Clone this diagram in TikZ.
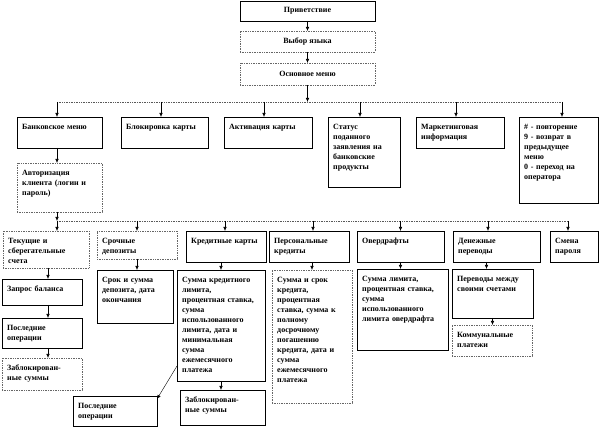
\documentclass[tikz,border=0pt]{standalone}
\usepackage{fontspec}
\setmainfont{Liberation Serif}
\usetikzlibrary{arrows.meta}
\tikzset{
  solidbox/.style={draw=black, line width=0.6pt},
  dotbox/.style={draw=black!60, densely dotted, line width=0.7pt},
  txt/.style={font=\fontsize{8}{10}\selectfont\bfseries, inner sep=0pt, align=left},
  arr/.style={-{Latex[length=4pt,width=3.5pt]}, line width=0.6pt},
  bus/.style={densely dotted, draw=black!65, line width=0.7pt},
}
\newcommand{\tbox}[7]{%
  \pgfmathsetmacro{\bw}{#5-#3}\pgfmathsetmacro{\bh}{#6-#4}\pgfmathsetmacro{\tw}{#5-#3-8}%
  \node[#2, anchor=north west, minimum width=\bw pt, minimum height=\bh pt, inner sep=0pt, outer sep=0pt] (#1) at (#3pt,-#4pt) {};%
  \node[txt, anchor=north west, text width=\tw pt] (#1-t) at (#3pt+5pt,-#4pt-5.5pt) {\strut #7};%
}
\newcommand{\drop}[3]{%
  \coordinate (tmp) at ([xshift=#2]#1.north);%
  \draw[arr] (tmp |- #3) -- (tmp);%
}
\begin{document}
\begin{tikzpicture}
\fill[white] (0,0) rectangle (600pt,-427pt);
\useasboundingbox (0,0) rectangle (600pt,-427pt);

% top chain
\node[solidbox, txt, align=center, minimum width=135pt, minimum height=20pt, anchor=north west, outer sep=0pt] (greet) at (240pt,-1pt) {Приветствие};
\node[dotbox, txt, align=center, minimum width=135pt, minimum height=21pt, anchor=north west, outer sep=0pt] (lang) at (240pt,-31pt) {Выбор языка};
\node[dotbox, txt, align=center, minimum width=135pt, minimum height=22pt, anchor=north west, outer sep=0pt] (main) at (240pt,-63pt) {Основное меню};

% first level
\tbox{bank}{solidbox}{17}{117}{102}{148}{Банковское меню}
\tbox{block}{solidbox}{121}{117}{208}{148}{Блокировка карты}
\tbox{activ}{solidbox}{224}{117}{312}{148}{Активация карты}
\tbox{status}{solidbox}{328}{117}{400}{187}{Статус\\поданного\\заявления на\\банковские\\продукты}
\tbox{market}{solidbox}{416}{117}{504}{148}{Маркетинговая\\информация}
\tbox{help}{solidbox}{519}{117}{598}{203}{\# - повторение\\9 - возврат в\\предыдущее\\меню\\0 - переход на\\оператора}
\tbox{auth}{dotbox}{17}{163}{102}{212}{Авторизация\\клиента (логин и\\пароль)}

% second level
\tbox{cur}{dotbox}{3}{231}{89}{268}{Текущие и\\сберегательные\\счета}
\tbox{term}{dotbox}{97}{231}{177}{259}{Срочные\\депозиты}
\tbox{cc}{solidbox}{186}{231}{266}{262}{Кредитные карты}
\tbox{pers}{solidbox}{269}{231}{349}{262}{Персональные\\кредиты}
\tbox{over}{solidbox}{357}{231}{444}{262}{Овердрафты}
\tbox{transf}{solidbox}{453}{231}{540}{262}{Денежные\\переводы}
\tbox{pwd}{solidbox}{550}{231}{598}{262}{Смена\\пароля}

% third level
\tbox{bal}{solidbox}{2}{279}{82}{305}{Запрос баланса}
\tbox{last1}{solidbox}{2}{318}{82}{348}{Последние\\операции}
\tbox{blk1}{dotbox}{2}{358}{82}{390}{Заблокирован-\\ные суммы}
\tbox{terminfo}{solidbox}{97}{270}{173}{323}{Срок и сумма\\депозита, дата\\окончания}
\tbox{ccinfo}{solidbox}{177}{270}{265}{381}{Сумма кредитного\\лимита,\\процентная ставка,\\сумма\\использованного\\лимита, дата и\\минимальная\\сумма\\ежемесячного\\платежа}
\tbox{persinfo}{dotbox}{272}{270}{352}{403}{Сумма и срок\\кредита,\\процентная\\ставка, сумма к\\полному\\досрочному\\погашению\\кредита, дата и\\сумма\\ежемесячного\\платежа}
\tbox{overinfo}{solidbox}{357}{269}{448}{350}{Сумма лимита,\\процентная ставка,\\сумма\\использованного\\лимита овердрафта}
\tbox{transfinfo}{solidbox}{452}{269}{533}{318}{Переводы между\\своими счетами}
\tbox{util}{dotbox}{452}{325}{532}{356}{Коммунальные\\платежи}
\tbox{last2}{solidbox}{73}{396}{157}{426}{Последние\\операции}
\tbox{blk2}{solidbox}{180}{390}{265}{425}{Заблокирован-\\ные суммы}

% connectors: top chain
\draw[arr] (greet.south) -- (lang.north);
\draw[arr] (lang.south) -- (main.north);
\coordinate (b1l) at (57pt,-102pt);
\coordinate (b1r) at (562pt,-102pt);
\draw[arr] (main.south) -- (main.south |- b1l);
\draw[bus] (b1l) -- (b1r);
\drop{bank}{-2.5pt}{b1l}
\drop{block}{-3.5pt}{b1l}
\drop{activ}{-4pt}{b1l}
\drop{status}{-4pt}{b1l}
\drop{market}{-4pt}{b1l}
\drop{help}{3.5pt}{b1l}
\draw[arr] ([xshift=-2.5pt]bank.south) -- ([xshift=-2.5pt]auth.north);

% second bus
\coordinate (b2l) at (57pt,-221pt);
\coordinate (b2r) at (568pt,-221pt);
\coordinate (a) at ([xshift=-2.5pt]auth.south);
\draw[arr] (a) -- (a |- b2l);
\draw[bus] (b2l) -- (b2r);
\draw[arr] (a |- b2l) -- (a |- cur.north);
\drop{term}{0pt}{b2l}
\drop{cc}{-1pt}{b2l}
\drop{pers}{4pt}{b2l}
\drop{over}{0pt}{b2l}
\drop{transf}{-8.5pt}{b2l}
\drop{pwd}{-6pt}{b2l}

% third level connectors
\coordinate (c1) at ([xshift=2pt]cur.south);
\draw[arr] (c1) -- (c1 |- bal.north);
\coordinate (c2) at ([xshift=6pt]bal.south);
\draw[arr] (c2) -- (c2 |- last1.north);
\coordinate (c3) at ([xshift=6pt]last1.south);
\draw[arr] (c3) -- (c3 |- blk1.north);
\draw[arr] (term.south) -- (term.south |- terminfo.north);
\draw[arr] (ccinfo.north |- cc.south) -- (ccinfo.north);
\draw[arr] (persinfo.north |- pers.south) -- (persinfo.north);
\draw[arr] (over.south) -- (over.south |- overinfo.north);
\coordinate (c4) at ([xshift=-6pt]transfinfo.north);
\draw[arr] (c4 |- transf.south) -- (c4);
\draw[arr] (transfinfo.south) -- (transfinfo.south |- util.north);
\draw[arr] (ccinfo.south) -- (ccinfo.south |- blk2.north);
\draw[arr, line width=0.4pt] ([yshift=15pt]ccinfo.south west) -- ([yshift=-3pt]last2.north east);
\end{tikzpicture}
\end{document}
